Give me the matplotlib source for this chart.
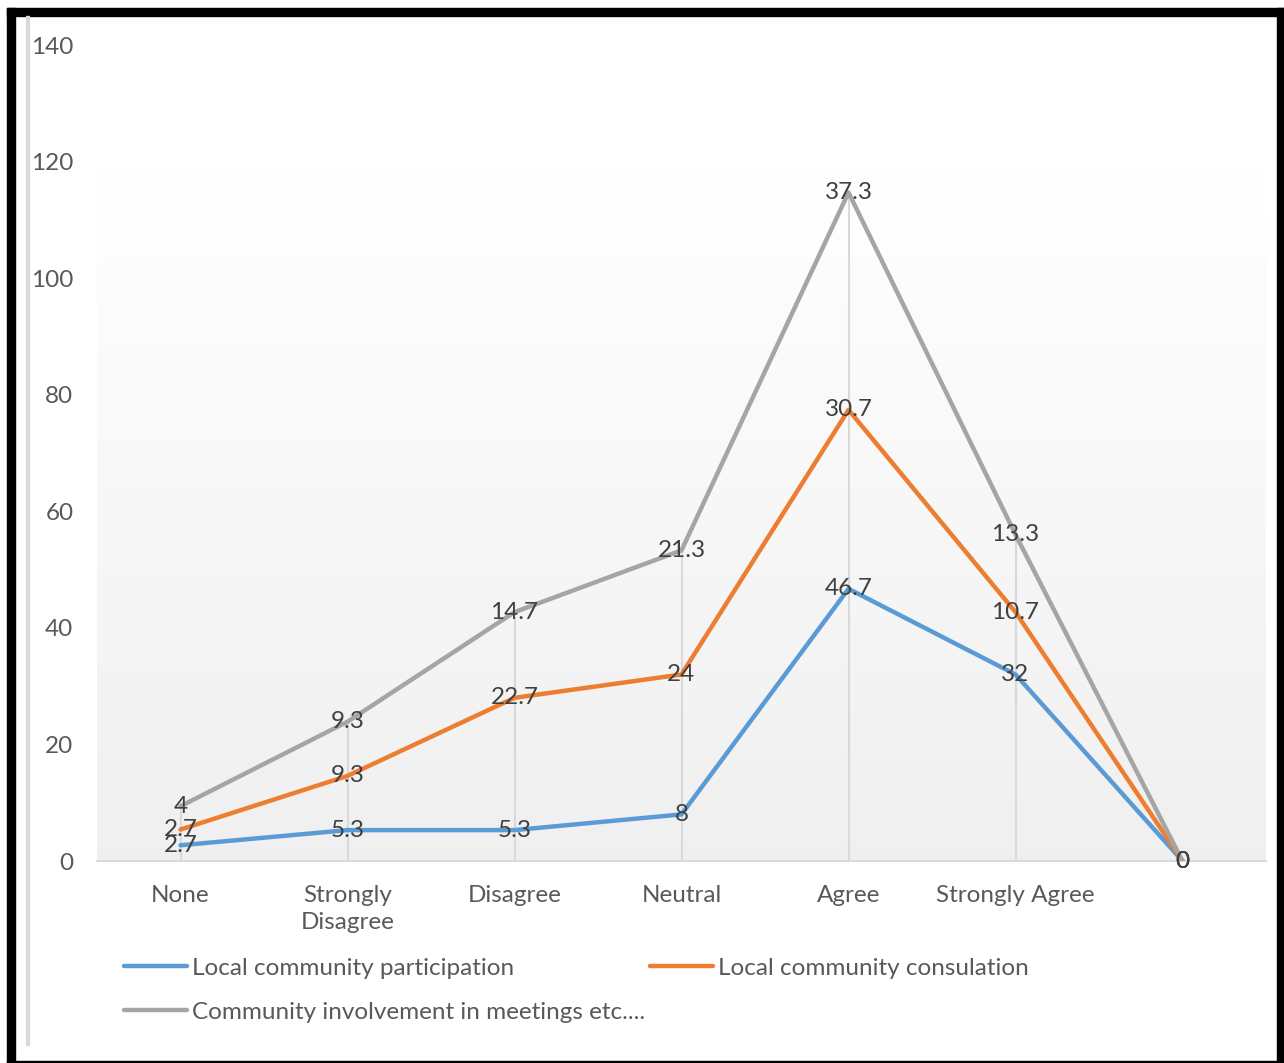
import matplotlib.pyplot as plt
from matplotlib.patches import Rectangle
import numpy as np

# Response categories (last one unlabeled)
categories = ['None', 'Strongly\nDisagree', 'Disagree', 'Neutral', 'Agree', 'Strongly Agree', '']

# Percentages per series
participation = [2.7, 5.3, 5.3, 8, 46.7, 32, 0]
consultation = [2.7, 9.3, 22.7, 24, 30.7, 10.7, 0]
involvement = [4, 9.3, 14.7, 21.3, 37.3, 13.3, 0]

names = ['Local community participation', 'Local community consulation',
         'Community involvement in meetings etc....']
colors = ['#5B9BD5', '#ED7D31', '#A5A5A5']

plt.rcParams['font.family'] = ['Lato', 'DejaVu Sans']
FS = 17.5

W, H = 1284, 1063
fig = plt.figure(figsize=(W / 100, H / 100), dpi=100)
ax = fig.add_axes([97 / W, 1 - 861 / H, (1266 - 97) / W, (861 - 45) / H])

# stacked line chart
series = [np.array(participation), np.array(consultation), np.array(involvement)]
stacked = np.cumsum(series, axis=0)
x = np.arange(len(categories))

# background gradient of the plot area
grad = np.clip(np.linspace(0, 1, 256) / 0.85, 0, 1)[:, None]
top_c = np.array([1.0, 1.0, 1.0])
bot_c = np.array([0.94, 0.94, 0.94])
img = bot_c + (top_c - bot_c) * grad[..., None]
ax.imshow(img, extent=[0, 1, 0, 1], transform=ax.transAxes, aspect='auto',
          origin='lower', zorder=0)

# drop lines from the top series down to the axis
ax.vlines(x, 0, stacked[-1], color='#d9d9d9', lw=1.5, zorder=1)

handles = []
for i in range(3):
    h, = ax.plot(x, stacked[i], color=colors[i], lw=3.2, zorder=3,
                 solid_capstyle='round', label=names[i])
    handles.append(h)
    for xi, yi, v in zip(x, stacked[i], series[i]):
        ax.text(xi, yi, '%g' % v, ha='center', va='center', fontsize=FS,
                color='#404040', zorder=4)

ax.set_xlim(-0.5, len(categories) - 0.5)
ax.set_ylim(0, 140)
ax.set_yticks(range(0, 141, 20))
ax.set_xticks(x)
ax.set_xticklabels(categories, fontsize=FS, color='#595959', linespacing=1.4)
ax.tick_params(axis='y', length=0, pad=17, labelsize=FS, labelcolor='#595959')
ax.tick_params(axis='x', length=0, pad=17)
for s in ['top', 'right', 'left']:
    ax.spines[s].set_visible(False)
ax.spines['bottom'].set_color('#d9d9d9')
ax.spines['bottom'].set_linewidth(1.5)

# legend: two columns, filled row by row
fig.legend([handles[0], handles[2], handles[1]],
           [names[0], names[2], names[1]],
           ncol=2, loc='upper left', bbox_to_anchor=(102 / W, 1 - 936 / H),
           frameon=False, fontsize=FS, handlelength=2.6, handletextpad=0.2,
           columnspacing=0.2, labelspacing=0.95, labelcolor='#595959')

# chart frame
tf = fig.transFigure
fig.add_artist(Rectangle((7 / W, 0), 8 / W, 1 - 8 / H, transform=tf,
                         color='black', zorder=10))
fig.add_artist(Rectangle((7 / W, 1 - 16 / H), 1 - 7 / W, 8 / H, transform=tf,
                         color='black', zorder=10))
fig.add_artist(Rectangle((1277 / W, 0), 7 / W, 1 - 8 / H, transform=tf,
                         color='black', zorder=10))
fig.add_artist(Rectangle((7 / W, 1 - 1063 / H), 1 - 7 / W, 2.5 / H, transform=tf,
                         color='black', zorder=10))
fig.add_artist(Rectangle((26 / W, 1 - 1045 / H), 3 / W, (1045 - 16) / H,
                         transform=tf, color='#d9d9d9', zorder=10))

fig.savefig('out.png', dpi=100)
